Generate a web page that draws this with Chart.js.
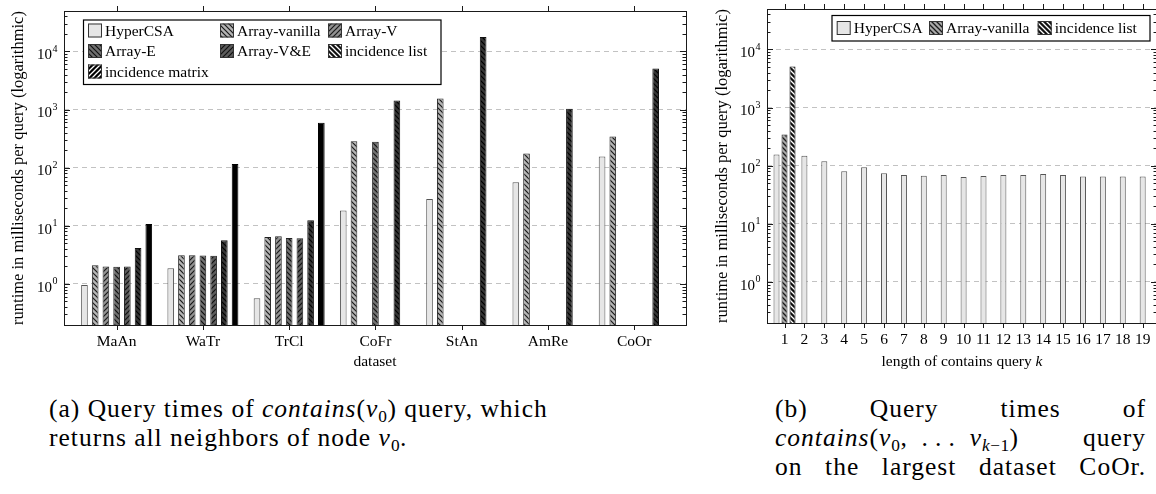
<!DOCTYPE html>
<html>
<head>
<meta charset="utf-8">
<script src="https://cdn.jsdelivr.net/npm/chart.js@4.4.1/dist/chart.umd.min.js"></script>
<style>
  html, body { margin: 0; padding: 0; background: #fff; overflow: hidden; }
  body { width: 1156px; height: 494px; position: relative; font-family: "Liberation Serif", serif; color: #000; }
  #chartA { position: absolute; left: 0; top: 0; }
  #chartB { position: absolute; left: 700px; top: 0; }
  .cap { position: absolute; font-size: 25.5px; line-height: 29px; letter-spacing: 1px; }
  .cap sub { font-size: 0.68em; vertical-align: -0.28em; line-height: 0; letter-spacing: 0.5px; }
  #capA { left: 49px; top: 394px; width: 600px; }
  #capB { left: 775px; top: 394px; width: 371px; }
  #capB div { text-align: justify; text-align-last: justify; }
</style>
</head>
<body>
<canvas id="chartA" width="700" height="375"></canvas>
<canvas id="chartB" width="470" height="375"></canvas>

<div class="cap" id="capA">(a) Query times of <i>contains</i>(<i>v</i><sub>0</sub>) query, which<br>returns all neighbors of node <i>v</i><sub>0</sub>.</div>
<div class="cap" id="capB">
  <div>(b) Query times of</div>
  <div><i>contains</i>(<i>v</i><sub>0</sub>,&#8194;.&#8201;.&#8201;.&#8194;<i>v</i><sub><i>k</i>−1</sub>) query</div>
  <div>on the largest dataset CoOr.</div>
</div>

<script>
// ---- data: figure (a), contains(v0) per dataset ----
const datasetNames = ['MaAn', 'WaTr', 'TrCl', 'CoFr', 'StAn', 'AmRe', 'CoOr'];
const hyperCSA        = [0.96, 1.86, 0.57, 18.4, 29, 56, 155];
const arrayVanilla    = [2.1, 3.12, 6.4, 285, 1550, 175, 345];
const arrayV          = [1.99, 3.12, 6.6, null, null, null, null];
const arrayE          = [1.97, 3.1, 6.2, 278, null, null, null];
const arrayVE         = [2.0, 3.05, 6.1, null, null, null, null];
const incidenceList   = [4.17, 5.67, 12.5, 1430, 17700, 1030, 5080];
const incidenceMatrix = [10.8, 116, 590, null, null, null, null];

// ---- data: figure (b), contains(v0..vk-1) on CoOr ----
const kValues = [1, 2, 3, 4, 5, 6, 7, 8, 9, 10, 11, 12, 13, 14, 15, 16, 17, 18, 19];
const hyperCSAByK = [155, 148, 119, 80, 94, 74, 69, 67, 69, 64, 66.5, 69, 69, 72, 69, 65, 65, 65, 65];
const arrayVanillaByK = [345];
const incidenceListByK = [5080];

const yMajorTicks = [1, 10, 100, 1000, 10000];
const yMin = 0.197;
const yMax = 49500;

const FONT = '"Liberation Serif", serif';
const axisFont = { family: FONT, size: 15.5 };
const yTitleFont = { family: FONT, size: 16.5 };

/**
 * Build a diagonal hatch pattern ('\' or '/') on a solid background
 */
function hatch(bg, fg, dir, step, width) {
    const c = document.createElement('canvas');
    c.width = step; c.height = step;
    const g = c.getContext('2d');
    g.fillStyle = bg;
    g.fillRect(0, 0, step, step);
    g.strokeStyle = fg;
    g.lineWidth = width;
    g.beginPath();
    if (dir === '\\') {
        g.moveTo(-1, -1); g.lineTo(step + 1, step + 1);
        g.moveTo(-1, step - 1); g.lineTo(1, step + 1);
        g.moveTo(step - 1, -1); g.lineTo(step + 1, 1);
    } else {
        g.moveTo(-1, step + 1); g.lineTo(step + 1, -1);
        g.moveTo(-1, 1); g.lineTo(1, -1);
        g.moveTo(step - 1, step + 1); g.lineTo(step + 1, step - 1);
    }
    g.stroke();
    return g.createPattern(c, 'repeat');
}

// pair an array of values with x positions for a linear index axis
function points(xs, values) {
    return values.map((v, i) => ({ x: xs[i], y: v }));
}

/**
 * Frame, inward y ticks (major + minor), outward x ticks, 10^n labels
 */
const decorPlugin = {
    id: 'decor',
    afterDraw(chart, args, opts) {
        const { ctx, chartArea: a, scales } = chart;
        const xs = scales.x, ys = scales.y;
        const seg = (x1, y1, x2, y2) => { ctx.moveTo(x1, y1); ctx.lineTo(x2, y2); };
        ctx.save();
        ctx.strokeStyle = '#1a1a1a';
        ctx.lineWidth = 1;
        ctx.beginPath();
        for (let e = -1; e <= 4; e++) {
            for (let m = 1; m <= 9; m++) {
                const v = m * Math.pow(10, e);
                if (v < ys.min || v > ys.max) continue;
                const py = Math.round(ys.getPixelForValue(v)) + 0.5;
                const len = m === 1 ? 6 : 3.5;
                seg(a.left, py, a.left + len, py);
                seg(a.right - len, py, a.right, py);
            }
        }
        xs.ticks.forEach(t => {
            const px = Math.round(xs.getPixelForValue(t.value)) + 0.5;
            seg(px, a.bottom, px, a.bottom + 5);
            seg(px, a.top - 5, px, a.top);
        });
        ctx.stroke();
        ctx.strokeRect(Math.round(a.left) + 0.5, Math.round(a.top) + 0.5,
                       Math.round(a.right - a.left), Math.round(a.bottom - a.top));

        // 10^n tick labels
        ctx.fillStyle = '#000';
        ys.ticks.forEach(t => {
            const py = ys.getPixelForValue(t.value);
            const exp = String(Math.round(Math.log10(t.value)));
            ctx.font = '10px ' + FONT;
            const we = ctx.measureText(exp).width;
            const right = a.left - 6.5;
            ctx.textAlign = 'left';
            ctx.textBaseline = 'alphabetic';
            ctx.fillText(exp, right - we, py + 0.5);
            ctx.font = '15px ' + FONT;
            ctx.textAlign = 'right';
            ctx.fillText('10', right - we - 0.5, py + 7.7);
        });

        // x title with italic parts (figure b)
        if (opts.xTitle) {
            const parts = opts.xTitle.parts;
            let total = 0;
            const widths = parts.map(p => {
                ctx.font = (p[1] ? 'italic ' : '') + '15.5px ' + FONT;
                const w = ctx.measureText(p[0]).width;
                total += w;
                return w;
            });
            let x = (a.left + a.right) / 2 - total / 2;
            ctx.textAlign = 'left';
            ctx.textBaseline = 'alphabetic';
            parts.forEach((p, i) => {
                ctx.font = (p[1] ? 'italic ' : '') + '15.5px ' + FONT;
                ctx.fillText(p[0], x, opts.xTitle.y);
                x += widths[i];
            });
        }
        ctx.restore();
    }
};

/**
 * Framed legend box placed inside the plot
 */
const boxLegendPlugin = {
    id: 'boxLegend',
    afterDatasetsDraw(chart, args, o) {
        const ctx = chart.ctx;
        const [x0, y0, x1, y1] = o.box;
        ctx.save();
        ctx.fillStyle = '#fff';
        ctx.fillRect(x0, y0, x1 - x0, y1 - y0);
        ctx.strokeStyle = '#000';
        ctx.lineWidth = 1.2;
        ctx.strokeRect(x0 + 0.5, y0 + 0.5, x1 - x0, y1 - y0);
        chart.data.datasets.forEach((ds, i) => {
            const sx = o.cols[i % o.cols.length];
            const sy = o.rows[Math.floor(i / o.cols.length)];
            ctx.fillStyle = ds.legendFill || ds.backgroundColor;
            ctx.fillRect(sx, sy - 7, 14, 14);
            ctx.strokeStyle = '#333';
            ctx.lineWidth = 1;
            ctx.strokeRect(sx + 0.5, sy - 6.5, 13, 13);
            ctx.fillStyle = '#000';
            ctx.font = '15.5px ' + FONT;
            ctx.textAlign = 'left';
            ctx.textBaseline = 'middle';
            ctx.fillText(ds.label, sx + 17, sy + 1);
        });
        ctx.restore();
    }
};

function logAxis(width, titlePad) {
    return {
        type: 'logarithmic',
        min: yMin,
        max: yMax,
        afterBuildTicks: s => { s.ticks = yMajorTicks.map(v => ({ value: v, major: true })); },
        afterFit: s => { s.width = width; },
        ticks: { display: false },
        grid: { color: '#c2c2c2', lineWidth: 1, drawTicks: false },
        border: { display: false, dash: [5, 4] },
        title: {
            display: true,
            text: 'runtime in milliseconds per query (logarithmic)',
            color: '#000',
            font: yTitleFont,
            padding: { top: titlePad, bottom: 0 }
        }
    };
}

function indexAxis(min, max, values, labelOf, height) {
    return {
        type: 'linear',
        offset: false,
        min: min,
        max: max,
        afterBuildTicks: s => { s.ticks = values.map(v => ({ value: v })); },
        afterFit: s => { s.height = height; s.paddingLeft = 0; s.paddingRight = 0; },
        grid: { display: false, offset: false },
        border: { display: false },
        ticks: {
            callback: labelOf,
            autoSkip: false,
            maxRotation: 0,
            padding: 0,
            color: '#000',
            font: axisFont
        }
    };
}

// ---------- figure (a) ----------
const idx = datasetNames.map((_, i) => i);
const barA = (label, values, bg, border, legendFill) => ({
    label: label,
    data: points(idx, values),
    backgroundColor: bg,
    borderColor: border,
    borderWidth: 1,
    legendFill: legendFill
});

const xA = indexAxis(-0.61, 6.6, idx, (v, i) => datasetNames[i], 50);
xA.title = { display: true, text: 'dataset', color: '#000', font: axisFont, padding: { top: 0, bottom: 4 } };

new Chart(document.getElementById('chartA'), {
    type: 'bar',
    data: {
        datasets: [
            barA('HyperCSA', hyperCSA, '#e6e6e6', '#555'),
            barA('Array-vanilla', arrayVanilla, hatch('#b4b4b4', '#1a1a1a', '\\', 5, 1.2), '#222'),
            barA('Array-V', arrayV, hatch('#929292', '#1a1a1a', '/', 5, 1.2), '#222'),
            barA('Array-E', arrayE, hatch('#707070', '#111', '\\', 5, 1.2), '#222'),
            barA('Array-V&E', arrayVE, hatch('#5c5c5c', '#111', '/', 5, 1.2), '#222'),
            barA('incidence list', incidenceList, hatch('#353535', '#000', '\\', 5, 1.2), '#111',
                 hatch('#111', '#fff', '\\', 5, 1.3)),
            barA('incidence matrix', incidenceMatrix, '#000', '#000',
                 hatch('#000', '#fff', '/', 5, 1.3))
        ]
    },
    options: {
        responsive: false,
        animation: false,
        layout: { padding: { left: 0, top: 11, right: 14, bottom: 0 } },
        categoryPercentage: 0.87,
        barPercentage: 0.62,
        scales: { x: xA, y: logAxis(64, 9) },
        plugins: {
            legend: { display: false },
            tooltip: { enabled: false },
            boxLegend: { box: [83, 19.5, 440.5, 84], cols: [88, 220, 328], rows: [30.5, 51, 71.5] },
            decor: {}
        }
    },
    plugins: [decorPlugin, boxLegendPlugin]
});

// ---------- figure (b) ----------
const barB = (label, values, bg, border) => ({
    label: label,
    data: points(kValues, values),
    backgroundColor: bg,
    borderColor: border,
    borderWidth: 1
});

const xB = indexAxis(0.12, 19.72, kValues, v => String(v), 52);
xB.title = { display: false };

new Chart(document.getElementById('chartB'), {
    type: 'bar',
    data: {
        datasets: [
            barB('HyperCSA', hyperCSAByK, '#e6e6e6', '#555'),
            barB('Array-vanilla', arrayVanillaByK, hatch('#a8a8a8', '#1a1a1a', '\\', 5, 1.3), '#222'),
            barB('incidence list', incidenceListByK, hatch('#111', '#fff', '\\', 5, 1.3), '#000')
        ]
    },
    options: {
        responsive: false,
        animation: false,
        layout: { padding: { left: 0, top: 9, right: 13, bottom: 0 } },
        skipNull: true,
        categoryPercentage: 1.206,
        barPercentage: 0.75,
        maxBarThickness: 6,
        scales: { x: xB, y: logAxis(67, 12.5) },
        plugins: {
            legend: { display: false },
            tooltip: { enabled: false },
            boxLegend: { box: [131.5, 15, 449.5, 40.5], cols: [136.7, 229, 337.7], rows: [28] },
            decor: { xTitle: { parts: [['length of contains query ', false], ['k', true]], y: 365.5 } }
        }
    },
    plugins: [decorPlugin, boxLegendPlugin]
});
</script>
</body>
</html>
